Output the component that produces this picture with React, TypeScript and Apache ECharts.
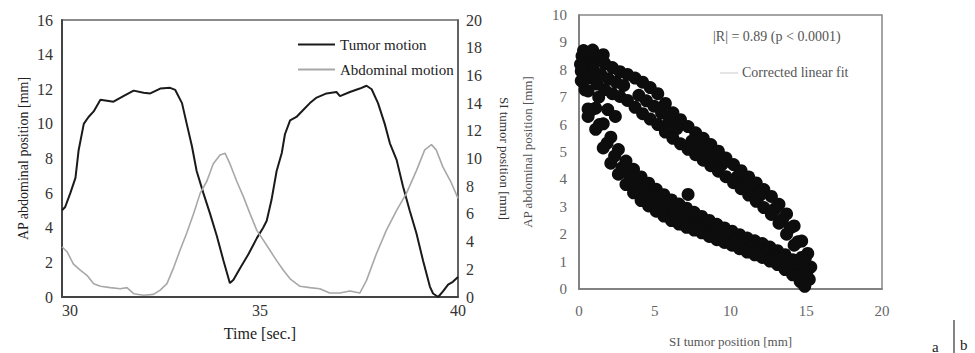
import React, { useEffect, useRef } from "react";
import * as echarts from "echarts";

// ---- Panel a: time series ----
const tumorTimes = [30.0, 30.08, 30.21, 30.34, 30.42, 30.55, 30.67, 30.8, 30.97, 31.3, 31.55, 31.81, 32.06, 32.23, 32.48, 32.73, 32.86, 33.03, 33.15, 33.28, 33.4, 33.57, 33.74, 33.91, 34.08, 34.24, 34.33, 34.5, 34.71, 34.92, 35.08, 35.17, 35.29, 35.42, 35.55, 35.63, 35.76, 35.92, 36.09, 36.26, 36.43, 36.68, 36.93, 37.02, 37.27, 37.52, 37.69, 37.82, 37.98, 38.15, 38.28, 38.45, 38.61, 38.78, 38.95, 39.12, 39.29, 39.37, 39.5, 39.62, 39.75, 39.87, 40.0];
// SI tumor position [mm] (right axis)
const tumorValues = [6.25, 6.5, 7.5, 8.6, 10.6, 12.5, 13.0, 13.4, 14.25, 14.1, 14.5, 14.9, 14.75, 14.7, 15.05, 15.1, 14.95, 14.0, 12.5, 10.9, 9.1, 7.5, 6.0, 4.4, 2.6, 1.0, 1.25, 2.1, 3.1, 4.25, 5.0, 5.5, 7.0, 9.1, 10.4, 11.75, 12.75, 13.0, 13.5, 14.0, 14.4, 14.7, 14.8, 14.5, 14.8, 15.05, 15.25, 15.0, 14.0, 12.5, 11.1, 9.9, 8.0, 6.25, 4.6, 2.6, 0.75, 0.25, 0.0, 0.4, 0.9, 1.1, 1.45];

const abdTimes = [30.0, 30.13, 30.29, 30.46, 30.63, 30.8, 30.97, 31.22, 31.47, 31.64, 31.81, 32.06, 32.31, 32.48, 32.65, 32.82, 32.98, 33.15, 33.32, 33.49, 33.66, 33.82, 33.99, 34.12, 34.24, 34.41, 34.58, 34.75, 34.92, 35.08, 35.25, 35.42, 35.59, 35.76, 36.01, 36.26, 36.51, 36.76, 37.02, 37.27, 37.52, 37.69, 37.94, 38.19, 38.45, 38.7, 38.95, 39.16, 39.33, 39.45, 39.62, 39.83, 40.0];
// AP abdominal position [mm] (left axis)
const abdValues = [2.9, 2.6, 1.9, 1.55, 1.25, 0.77, 0.62, 0.54, 0.48, 0.54, 0.19, 0.1, 0.15, 0.4, 0.77, 1.7, 2.7, 3.7, 4.8, 6.0, 6.7, 7.7, 8.2, 8.3, 7.7, 6.7, 5.8, 4.8, 3.85, 3.3, 2.7, 2.1, 1.55, 1.05, 0.62, 0.54, 0.48, 0.23, 0.23, 0.35, 0.23, 0.96, 2.5, 3.85, 5.0, 6.0, 7.3, 8.5, 8.8, 8.5, 7.5, 6.6, 5.7];

// ---- Panel b: scatter [SI tumor, AP abdominal] ----
const upperOuter = [[0.2, 8.5], [0.7, 8.45], [1.2, 8.38], [1.7, 8.23], [2.2, 8.08], [2.7, 7.93], [3.2, 7.83], [3.7, 7.7], [4.2, 7.55], [4.7, 7.35], [5.2, 7.13], [5.7, 6.77], [6.2, 6.43], [6.7, 6.18], [7.2, 5.93], [7.7, 5.7], [8.2, 5.5], [8.7, 5.27], [9.2, 5.03], [9.7, 4.78], [10.2, 4.54], [10.7, 4.32], [11.2, 4.09], [11.7, 3.87], [12.2, 3.63], [12.7, 3.38], [13.2, 3.09], [13.7, 2.74], [14.2, 2.3], [14.7, 1.75], [15.1, 1.3], [15.3, 0.8]];
const upperMid = [[0.45, 8.17], [0.95, 8.02], [1.45, 7.83], [1.95, 7.67], [2.45, 7.55], [2.95, 7.43], [3.95, 7.07], [4.45, 6.87], [4.95, 6.67], [5.45, 6.42], [5.95, 6.1], [6.45, 5.85], [7.45, 5.4], [7.95, 5.19], [8.45, 4.98], [8.95, 4.77], [9.45, 4.55], [10.45, 4.1], [10.95, 3.87], [11.45, 3.65], [11.95, 3.42], [12.95, 2.93], [13.45, 2.56], [13.95, 2.23], [14.45, 1.72], [14.95, 1.15]];
const upperInner = [[0.2, 8.0], [0.7, 7.7], [1.2, 7.48], [1.7, 7.28], [2.2, 7.13], [2.7, 7.03], [3.2, 6.88], [3.7, 6.63], [4.2, 6.4], [4.7, 6.2], [5.2, 6.0], [5.7, 5.73], [6.2, 5.5], [6.7, 5.3], [7.2, 5.1], [7.7, 4.9], [8.2, 4.7], [8.7, 4.5], [9.2, 4.3], [9.7, 4.1], [10.2, 3.88], [10.7, 3.66], [11.2, 3.43], [11.7, 3.2], [12.2, 2.97], [12.7, 2.72], [13.2, 2.4], [13.7, 2.0], [14.2, 1.6], [14.7, 1.15], [15.1, 0.7]];
const lowerInner = [[0.15, 7.95], [0.6, 7.23], [1.1, 6.6], [1.6, 6.03], [2.1, 5.54], [2.6, 5.09], [3.1, 4.67], [3.6, 4.37], [4.1, 4.09], [4.6, 3.86], [5.1, 3.64], [5.6, 3.44], [6.1, 3.25], [6.6, 3.1], [7.1, 2.95], [7.6, 2.8], [8.1, 2.65], [8.6, 2.5], [9.1, 2.36], [9.6, 2.23], [10.1, 2.11], [10.6, 1.98], [11.1, 1.86], [11.6, 1.76], [12.1, 1.66], [12.6, 1.53], [13.1, 1.4], [13.6, 1.25], [14.1, 1.07], [14.6, 0.8], [15.0, 0.5]];
const lowerMid = [[0.4, 7.27], [0.85, 6.55], [1.35, 6.0], [1.85, 5.32], [2.35, 4.85], [2.85, 4.43], [3.35, 4.09], [3.85, 3.79], [4.35, 3.55], [4.85, 3.34], [5.35, 3.15], [5.85, 2.96], [6.35, 2.8], [6.85, 2.67], [7.35, 2.54], [7.85, 2.41], [8.35, 2.28], [8.85, 2.15], [9.35, 2.02], [9.85, 1.91], [10.35, 1.79], [10.85, 1.67], [11.35, 1.55], [11.85, 1.45], [12.35, 1.34], [12.85, 1.21], [13.35, 1.06], [13.85, 0.89], [14.35, 0.66], [14.8, 0.4]];
const lowerOuter = [[0.15, 7.6], [0.6, 6.57], [1.1, 5.83], [1.6, 5.15], [2.1, 4.59], [2.6, 4.19], [3.1, 3.81], [3.6, 3.51], [4.1, 3.23], [4.6, 3.03], [5.1, 2.84], [5.6, 2.66], [6.1, 2.5], [6.6, 2.37], [7.1, 2.25], [7.6, 2.15], [8.1, 2.05], [8.6, 1.92], [9.1, 1.8], [9.6, 1.7], [10.1, 1.6], [10.6, 1.47], [11.1, 1.35], [11.6, 1.25], [12.1, 1.15], [12.6, 1.02], [13.1, 0.89], [13.6, 0.71], [14.1, 0.52], [14.6, 0.27], [14.9, 0.1]];
const strayPoints = [[0.6, 6.3], [7.2, 3.45], [1.3, 7.0], [1.9, 6.55], [2.4, 6.3], [15.2, 0.35], [14.9, 0.6], [0.3, 8.7], [0.9, 8.72], [1.6, 8.55], [0.1, 8.2]];

const timeTicks = { min: 30, max: 40, interval: 5 };
const apTicks = { min: 0, max: 16, interval: 2 };
const siTicks = { min: 0, max: 20, interval: 2 };
const scatterXTicks = { min: 0, max: 20, interval: 5 };
const scatterYTicks = { min: 0, max: 10, interval: 1 };

const SERIF = "'Liberation Serif', 'DejaVu Serif', serif";

export default function App() {
  const ref = useRef<HTMLDivElement>(null);
  useEffect(() => {
    document.body.style.margin = "0";
    const chart = echarts.init(ref.current!, null, { renderer: "svg" });
    const tumorData = tumorTimes.map((t, i) => [t, tumorValues[i]]);
    const abdData = abdTimes.map((t, i) => [t, abdValues[i]]);
    const scatterData = [
      ...upperOuter, ...upperMid, ...upperInner,
      ...lowerInner, ...lowerMid, ...lowerOuter, ...strayPoints,
    ];
    const labelA = { fontSize: 16, color: "#333", fontFamily: SERIF };
    const labelB = { fontSize: 15, color: "#666", fontFamily: SERIF };
    chart.setOption({
      animation: false,
      backgroundColor: "#fff",
      textStyle: { fontFamily: SERIF },
      grid: [
        { left: 62, top: 20, width: 396, height: 277, show: true, borderColor: "#666", borderWidth: 1.5, backgroundColor: "transparent" },
        { left: 579, top: 15, width: 303, height: 282, show: true, borderColor: "#888", borderWidth: 1.5, backgroundColor: "transparent" },
      ],
      legend: {
        data: [
          { name: "Tumor motion", icon: "rect" },
          { name: "Abdominal motion", icon: "rect" },
        ],
        left: 293, top: 32, orient: "vertical",
        itemWidth: 37, itemHeight: 2, itemGap: 10,
        textStyle: { fontSize: 15, color: "#222", fontFamily: SERIF, lineHeight: 15, height: 15 },
      },
      xAxis: [
        {
          type: "value", gridIndex: 0, ...timeTicks,
          name: "Time [sec.]", nameLocation: "middle", nameGap: 28,
          nameTextStyle: { fontSize: 16, color: "#222", fontFamily: SERIF },
          axisLine: { show: true, lineStyle: { color: "#444", width: 2 } },
          axisTick: { show: false }, splitLine: { show: false },
          axisLabel: { ...labelA, margin: 5, alignMinLabel: "left" },
        },
        {
          type: "value", gridIndex: 1, ...scatterXTicks,
          name: "SI tumor position [mm]", nameLocation: "middle", nameGap: 46,
          nameTextStyle: { fontSize: 13, color: "#555", fontFamily: SERIF },
          axisLine: { show: true, lineStyle: { color: "#777", width: 1.5 } },
          axisTick: { show: false }, splitLine: { show: false },
          axisLabel: { ...labelB, margin: 14 },
        },
      ],
      yAxis: [
        {
          type: "value", gridIndex: 0, position: "left", ...apTicks,
          name: "AP abdominal position [mm]", nameLocation: "middle", nameGap: 32,
          nameTextStyle: { fontSize: 14, color: "#222", fontFamily: SERIF },
          axisLine: { show: true, lineStyle: { color: "#444", width: 2 } },
          axisTick: { show: false }, splitLine: { show: false },
          axisLabel: { ...labelA, margin: 9 },
        },
        {
          type: "value", gridIndex: 0, position: "right", ...siTicks,
          name: "SI tumor position [mm]", nameLocation: "middle", nameGap: 40, nameRotate: -90,
          nameTextStyle: { fontSize: 13, color: "#333", fontFamily: SERIF },
          axisLine: { show: true, lineStyle: { color: "#555", width: 1.5 } },
          axisTick: { show: false }, splitLine: { show: false },
          axisLabel: { ...labelA, margin: 8 },
        },
        {
          type: "value", gridIndex: 1, position: "left", ...scatterYTicks,
          name: "AP abdominal position [mm]", nameLocation: "middle", nameGap: 45,
          nameTextStyle: { fontSize: 13, color: "#555", fontFamily: SERIF },
          axisLine: { show: true, lineStyle: { color: "#777", width: 1.5 } },
          axisTick: { show: false }, splitLine: { show: false },
          axisLabel: { ...labelB, margin: 12 },
        },
      ],
      series: [
        {
          name: "Tumor motion", type: "line", xAxisIndex: 0, yAxisIndex: 1,
          data: tumorData, symbol: "none", lineStyle: { color: "#1a1a1a", width: 2 },
          itemStyle: { color: "#1a1a1a" },
        },
        {
          name: "Abdominal motion", type: "line", xAxisIndex: 0, yAxisIndex: 0,
          data: abdData, symbol: "none", lineStyle: { color: "#a8a8a8", width: 1.6 },
          itemStyle: { color: "#a8a8a8" },
        },
        {
          name: "Scatter", type: "scatter", xAxisIndex: 1, yAxisIndex: 2,
          data: scatterData, symbolSize: 13, itemStyle: { color: "#0d0d0d", opacity: 1 },
        },
      ],
      graphic: [
        { type: "text", left: 713, top: 29, style: { text: "|R| = 0.89 (p < 0.0001)", fontSize: 14, fill: "#555", fontFamily: SERIF } },
        { type: "line", shape: { x1: 720, y1: 73, x2: 738, y2: 73 }, style: { stroke: "#d4d4d4", lineWidth: 1.2 } },
        { type: "text", left: 742, top: 65, style: { text: "Corrected linear fit", fontSize: 14, fill: "#555", fontFamily: SERIF } },
        { type: "text", left: 932, top: 339, style: { text: "a", fontSize: 15, fill: "#222", fontFamily: SERIF } },
        { type: "line", shape: { x1: 954, y1: 320, x2: 954, y2: 353 }, style: { stroke: "#333", lineWidth: 1.2 } },
        { type: "text", left: 960, top: 337, style: { text: "b", fontSize: 15, fill: "#222", fontFamily: SERIF } },
      ],
    });
    return () => chart.dispose();
  }, []);
  return <div ref={ref} style={{ width: 975, height: 353 }} />;
}
